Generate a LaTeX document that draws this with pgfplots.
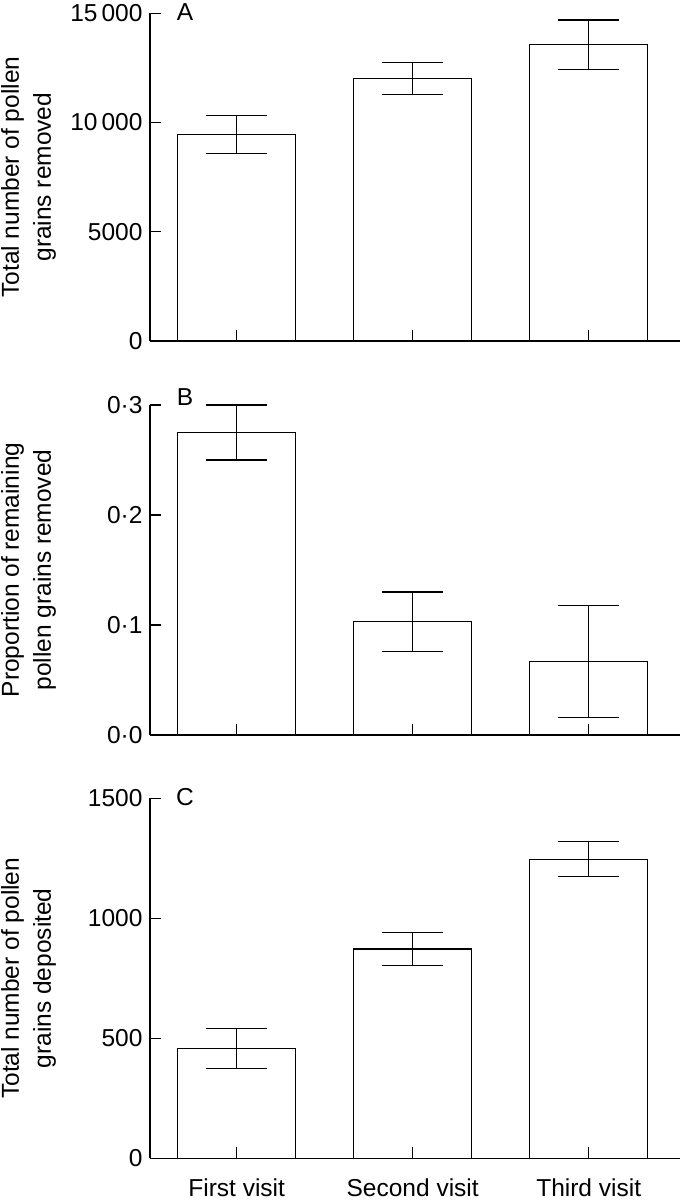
\documentclass[border=0pt]{standalone}
\usepackage{fontspec}
\setmainfont{Liberation Sans}
\usepackage{pgfplots}
\pgfplotsset{compat=1.18}
\usepackage{pgfplotstable}

\pgfplotstableread{
x y e
0 9450 860
1 12010 730
2 13560 1135
}\dataA
\pgfplotstableread{
x y e
0 0.275 0.025
1 0.103 0.027
2 0.067 0.051
}\dataB
\pgfplotstableread{
x y e
0 458 83
1 872 70
2 1246 73
}\dataC

\tikzset{plab/.style={font=\fontsize{24.5}{30}\selectfont, anchor=center, inner sep=0pt}}

\pgfplotsset{
  panel/.style={
    scale only axis,
    width=530pt,
    anchor=south west,
    xmin=-0.4926, xmax=2.5188,
    ymin=0,
    axis x line=bottom,
    axis y line=left,
    axis line style={-, line width=1.2pt, black},
    tick style={line width=1.2pt, black},
    tick align=inside,
    major tick length=11pt,
    xtick={0,1,2},
    scaled y ticks=false,
    axis on top,
    clip=false,
    tick label style={font=\fontsize{24.5}{30}\selectfont},
    yticklabel style={anchor=east, xshift=-4pt},
    label style={font=\fontsize{24.5}{32}\selectfont},
    ylabel style={at={(axis description cs:-0.2292,0.5)}, anchor=center, align=center},
  },
  bars/.style={
    ybar, bar width=117.5pt, fill=white, draw=black, line width=1.1pt,
    error bars/.cd, y dir=both, y explicit,
    error bar style={line width=1.1pt, black},
    error mark options={line width=1.1pt, mark size=30.5pt, black, rotate=90},
  },
}

\begin{document}
\begin{tikzpicture}
% Panel A
\begin{axis}[panel,
  at={(150pt,859pt)}, height=327.7pt,
  ymax=15000,
  ytick={0,5000,10000,15000},
  yticklabels={0,5000,10\,000,15\,000},
  xticklabels={,,},
  ylabel={Total number of pollen\\grains removed},
]
\addplot[bars] table[x=x, y=y, y error=e]{\dataA};
\node[plab] at (axis cs:-0.294,15040) {A};
\end{axis}
% Panel B
\begin{axis}[panel,
  at={(150pt,465pt)}, height=330pt,
  ymax=0.3,
  ytick={0,0.1,0.2,0.3},
  yticklabels={0·0,0·1,0·2,0·3},
  xticklabels={,,},
  ylabel={Proportion of remaining\\pollen grains removed},
]
\addplot[bars] table[x=x, y=y, y error=e]{\dataB};
\node[plab] at (axis cs:-0.294,0.3068) {B};
\end{axis}
% Panel C
\begin{axis}[panel,
  at={(150pt,41.7pt)}, height=360pt,
  ymax=1500,
  ytick={0,500,1000,1500},
  yticklabels={0,500,1000,1500},
  xticklabels={First visit,Second visit,Third visit},
  xticklabel style={anchor=base, yshift=-38.2pt},
  ylabel={Total number of pollen\\grains deposited},
]
\addplot[bars] table[x=x, y=y, y error=e]{\dataC};
\node[plab] at (axis cs:-0.294,1507) {C};
\end{axis}
\pgfresetboundingbox
\path[use as bounding box] (0,0) rectangle (680pt,1200pt);
\end{tikzpicture}
\end{document}
